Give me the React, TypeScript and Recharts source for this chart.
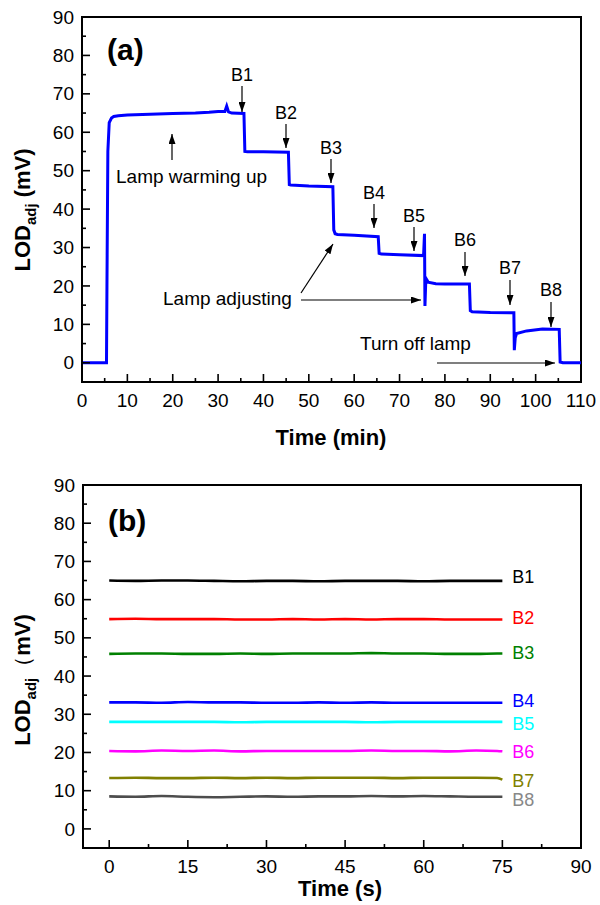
import React from "react";
import { LineChart, Line, XAxis, YAxis, ReferenceArea } from "recharts";

// (a) lamp run, time in minutes vs LOD_adj in mV
const timeMin = [
  0, 5.4, 5.5, 5.7, 6.0, 6.5, 7.0, 8.0, 10, 15,
  20, 25, 28, 30, 31.5, 31.9, 32.3, 33, 35.7, 35.9,
  36.5, 40, 45.5, 45.7, 46, 50, 55.3, 55.5, 55.8, 56.3,
  60, 65.3, 65.5, 66, 70, 75.3, 75.5, 75.6, 75.8, 76.3,
  78, 80, 85.4, 85.6, 86, 90, 95.2, 95.3, 95.5, 95.8,
  98, 101.5, 105.2, 105.4, 106, 110,
];
const lodRun = [
  0, 0, 20, 55, 62.5, 63.7, 64.1, 64.3, 64.5, 64.7,
  64.9, 65.0, 65.2, 65.4, 65.4, 66.8, 65.3, 65.0, 64.9, 55.0,
  54.9, 54.9, 54.8, 46.4, 46.3, 46.0, 45.8, 34.6, 33.6, 33.4,
  33.2, 32.8, 28.5, 28.3, 28.1, 27.9, 33.6, 14.8, 22.0, 21.0,
  20.6, 20.5, 20.5, 13.6, 13.3, 13.1, 13.0, 3.3, 6.5, 7.6,
  8.3, 8.8, 8.7, 0.2, 0, 0,
];

// (b) stable levels, time in seconds
const timeSec = [0, 5, 10, 15, 20, 25, 30, 35, 40, 45, 50, 55, 60, 65, 70, 74, 75];
const b1 = [65.0, 64.9, 65.0, 65.0, 64.9, 64.8, 64.9, 64.9, 64.8, 64.9, 64.9, 64.9, 64.8, 64.9, 64.9, 64.9, 64.9];
const b2 = [54.9, 55.0, 54.9, 54.9, 54.9, 54.8, 54.8, 54.9, 54.8, 54.9, 54.8, 54.9, 54.9, 54.8, 54.8, 54.8, 54.8];
const b3 = [45.8, 45.9, 45.9, 45.8, 45.8, 45.9, 45.8, 45.9, 45.9, 45.9, 46.0, 45.9, 45.9, 45.8, 45.8, 45.9, 45.9];
const b4 = [33.1, 33.1, 33.0, 33.2, 33.1, 33.1, 33.0, 33.0, 33.1, 33.0, 33.1, 33.0, 33.0, 33.0, 33.0, 33.0, 33.0];
const b5 = [28.0, 28.0, 28.0, 28.0, 28.0, 27.9, 28.0, 28.0, 28.0, 28.0, 27.9, 28.0, 28.0, 28.0, 28.0, 28.0, 28.0];
const b6 = [20.4, 20.3, 20.5, 20.4, 20.5, 20.3, 20.4, 20.4, 20.4, 20.4, 20.5, 20.4, 20.4, 20.3, 20.5, 20.4, 20.3];
const b7 = [13.3, 13.4, 13.3, 13.3, 13.4, 13.3, 13.4, 13.3, 13.4, 13.4, 13.4, 13.3, 13.4, 13.4, 13.4, 13.3, 12.9];
const b8 = [8.5, 8.4, 8.6, 8.4, 8.3, 8.4, 8.5, 8.4, 8.5, 8.5, 8.6, 8.5, 8.6, 8.5, 8.4, 8.4, 8.4];

const seriesNames = ["B1", "B2", "B3", "B4", "B5", "B6", "B7", "B8"];
const seriesValues = [b1, b2, b3, b4, b5, b6, b7, b8];
const lineColors = ["#000000", "#ff0000", "#008000", "#0000ff", "#00ffff", "#ff00ff", "#808000", "#4d4d4d"];
const labelColors = ["#000000", "#ff0000", "#008000", "#0000ff", "#00ffff", "#ff00ff", "#808000", "#888888"];
const labelShift = [-4, -2, -1, -2, 2, 0, 1, 3];

const xTicksMin = [0, 5, 10, 15, 20, 25, 30, 35, 40, 45, 50, 55, 60, 65, 70, 75, 80, 85, 90, 95, 100, 105, 110];
const xTicksSec = [0, 7.5, 15, 22.5, 30, 37.5, 45, 52.5, 60, 67.5, 75, 82.5, 90];
const yTicks = [0, 5, 10, 15, 20, 25, 30, 35, 40, 45, 50, 55, 60, 65, 70, 75, 80, 85, 90];

const topData = timeMin.map((t, i) => ({ t, v: lodRun[i] }));
const bottomData = timeSec.map((t, i) => {
  const row: any = { t };
  seriesNames.forEach((n, k) => (row[n] = seriesValues[k][i]));
  return row;
});

const FONT = '"Liberation Sans", Arial, sans-serif';

const isMultiple = (v: number, step: number) => Math.abs(v / step - Math.round(v / step)) < 1e-6;

const makeXTick = (step: number) => (props: any) => {
  const { x, y, payload } = props;
  const major = isMultiple(payload.value, step);
  return (
    <g>
      <line x1={x} x2={x} y1={y} y2={y - (major ? 8 : 4)} stroke="#000" strokeWidth={1.6} />
      {major && (
        <text x={x} y={y + 18} dy="0.35em" textAnchor="middle" fontSize={19} fontFamily={FONT} fill="#000">
          {payload.value}
        </text>
      )}
    </g>
  );
};

const YTick = (props: any) => {
  const { x, y, payload } = props;
  const major = isMultiple(payload.value, 10);
  return (
    <g>
      <line x1={x} x2={x + (major ? 8 : 4)} y1={y} y2={y} stroke="#000" strokeWidth={1.6} />
      {major && (
        <text x={x - 8} y={y} dy="0.35em" textAnchor="end" fontSize={19} fontFamily={FONT} fill="#000">
          {payload.value}
        </text>
      )}
    </g>
  );
};

const XTickMin = makeXTick(10);
const XTickSec = makeXTick(15);
const axisStyle = { stroke: "#000", strokeWidth: 2 };

// plot box of panel (b), used to place the end labels
const B_LEFT = 83;
const B_RIGHT = 581;
const B_TOP = 485;
const B_BOTTOM = 848;
const sx2 = (t: number) => B_LEFT + ((t + 5) / 95) * (B_RIGHT - B_LEFT);
const sy2 = (v: number) => B_TOP + ((90 - v) / 95) * (B_BOTTOM - B_TOP);

const bArrows = [
  { name: "B1", x: 242, ty: 75, y1: 86, y2: 112 },
  { name: "B2", x: 286, ty: 113, y1: 124, y2: 148 },
  { name: "B3", x: 331, ty: 148, y1: 159, y2: 183 },
  { name: "B4", x: 374, ty: 193, y1: 204, y2: 228 },
  { name: "B5", x: 414, ty: 216, y1: 227, y2: 251 },
  { name: "B6", x: 465, ty: 240, y1: 252, y2: 276 },
  { name: "B7", x: 510, ty: 268, y1: 280, y2: 305 },
  { name: "B8", x: 551, ty: 290, y1: 302, y2: 327 },
];

export default function App() {
  const txt = { fontFamily: FONT, fill: "#000" } as const;
  return (
    <div style={{ position: "absolute", left: 0, top: 0, width: 600, height: 905, background: "#fff" }}>
      <div style={{ position: "absolute", left: 0, top: 0 }}>
        <LineChart width={600} height={450} data={topData} margin={{ top: 17, right: 19, left: 0, bottom: 38 }}>
          <XAxis
            type="number"
            dataKey="t"
            domain={[0, 110]}
            ticks={xTicksMin}
            interval={0}
            tickSize={0}
            tickMargin={0}
            tickLine={false}
            tick={XTickMin}
            axisLine={axisStyle}
            height={30}
            allowDataOverflow
          />
          <YAxis
            type="number"
            domain={[-5, 90]}
            ticks={yTicks}
            interval={0}
            width={82}
            tickSize={0}
            tickMargin={0}
            tickLine={false}
            tick={YTick}
            axisLine={axisStyle}
            allowDataOverflow
          />
          <ReferenceArea x1={0} x2={110} y1={-5} y2={90} fill="none" fillOpacity={0} stroke="#000" strokeWidth={2} ifOverflow="visible" />
          <Line type="linear" dataKey="v" stroke="#0000ff" strokeWidth={3} dot={false} isAnimationActive={false} />
        </LineChart>
      </div>

      <div style={{ position: "absolute", left: 0, top: 450 }}>
        <LineChart width={600} height={455} data={bottomData} margin={{ top: 35, right: 19, left: 0, bottom: 27 }}>
          <XAxis
            type="number"
            dataKey="t"
            domain={[-5, 90]}
            ticks={xTicksSec}
            interval={0}
            tickSize={0}
            tickMargin={0}
            tickLine={false}
            tick={XTickSec}
            axisLine={axisStyle}
            height={30}
            allowDataOverflow
          />
          <YAxis
            type="number"
            domain={[-5, 90]}
            ticks={yTicks}
            interval={0}
            width={83}
            tickSize={0}
            tickMargin={0}
            tickLine={false}
            tick={YTick}
            axisLine={axisStyle}
            allowDataOverflow
          />
          <ReferenceArea x1={-5} x2={90} y1={-5} y2={90} fill="none" fillOpacity={0} stroke="#000" strokeWidth={2} ifOverflow="visible" />
          {seriesNames.map((n, k) => (
            <Line
              key={n}
              type="monotone"
              dataKey={n}
              stroke={lineColors[k]}
              strokeWidth={2.6}
              dot={false}
              isAnimationActive={false}
            />
          ))}
        </LineChart>
      </div>

      <svg width={600} height={905} style={{ position: "absolute", left: 0, top: 0, pointerEvents: "none" }}>
        <defs>
          <marker id="ah" markerUnits="userSpaceOnUse" markerWidth={10} markerHeight={7} refX={10} refY={3.5} orient="auto">
            <path d="M0,0 L10,3.5 L0,7 z" fill="#000" />
          </marker>
        </defs>

        {/* panel (a) */}
        <text x={107} y={52} dy="0.27em" fontSize={30} fontWeight="bold" {...txt}>(a)</text>
        {bArrows.map((a) => (
          <g key={a.name}>
            <text x={a.x} y={a.ty} dy="0.35em" textAnchor="middle" fontSize={18} {...txt}>{a.name}</text>
            <line x1={a.x} x2={a.x} y1={a.y1} y2={a.y2} stroke="#000" strokeWidth={1.2} markerEnd="url(#ah)" />
          </g>
        ))}
        <text x={116} y={176} dy="0.35em" fontSize={19} {...txt}>Lamp warming up</text>
        <line x1={172} x2={172} y1={160} y2={134} stroke="#000" strokeWidth={1.2} markerEnd="url(#ah)" />
        <text x={163} y={298} dy="0.35em" fontSize={19} {...txt}>Lamp adjusting</text>
        <line x1={301} x2={421} y1={300} y2={300} stroke="#000" strokeWidth={1.2} markerEnd="url(#ah)" />
        <line x1={301} x2={333} y1={293} y2={244} stroke="#000" strokeWidth={1.2} markerEnd="url(#ah)" />
        <text x={360} y={343} dy="0.35em" fontSize={19} {...txt}>Turn off lamp</text>
        <line x1={437} x2={555} y1={363} y2={363} stroke="#000" strokeWidth={1.2} markerEnd="url(#ah)" />

        <text x={331} y={437} dy="0.35em" textAnchor="middle" fontSize={22} fontWeight="bold" {...txt}>Time (min)</text>
        <text transform="translate(30,210) rotate(-90)" textAnchor="middle" fontSize={22} fontWeight="bold" {...txt}>
          LOD<tspan fontSize={15} dy={6}>adj</tspan>
          <tspan dy={-6}> (mV)</tspan>
        </text>

        {/* panel (b) */}
        <text x={108} y={523} dy="0.27em" fontSize={30} fontWeight="bold" {...txt}>(b)</text>
        {seriesNames.map((n, k) => {
          const vals = seriesValues[k];
          const last = vals.length - 1;
          return (
            <text
              key={n}
              x={sx2(timeSec[last]) + 10}
              y={sy2(vals[last]) + labelShift[k]}
              dy="0.35em"
              fontSize={18}
              fontFamily={FONT}
              fill={labelColors[k]}
            >
              {n}
            </text>
          );
        })}
        <text x={340} y={888} dy="0.35em" textAnchor="middle" fontSize={22} fontWeight="bold" {...txt}>Time (s)</text>
        <text transform="translate(30,680) rotate(-90)" textAnchor="middle" fontSize={22} fontWeight="bold" {...txt}>
          LOD<tspan fontSize={15} dy={6}>adj</tspan>
          <tspan dy={-6} fontWeight="normal">（</tspan>
          <tspan fontWeight="bold">mV)</tspan>
        </text>
      </svg>
    </div>
  );
}
